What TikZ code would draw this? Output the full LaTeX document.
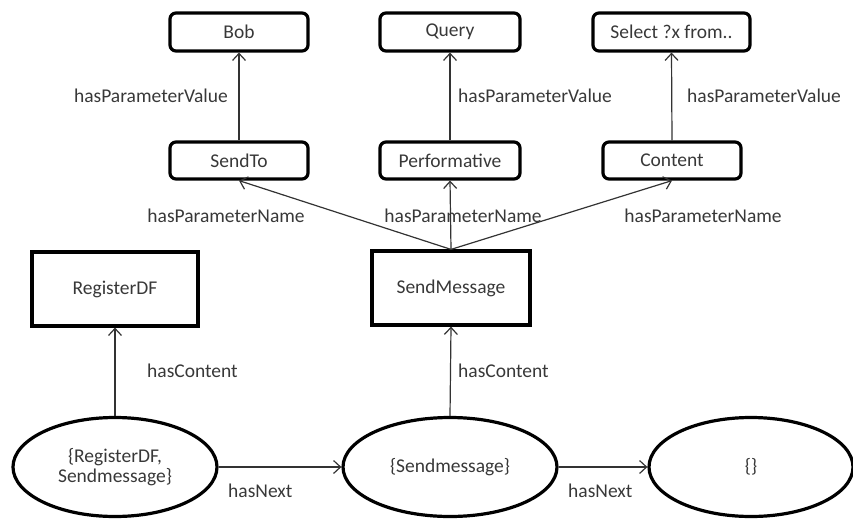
\documentclass[tikz,border=0pt]{standalone}
\usepackage{fontspec}
\setmainfont{Carlito}
\usetikzlibrary{shapes.geometric,arrows.meta}
\definecolor{txt}{HTML}{383838}
\begin{document}
\begin{tikzpicture}[x=1pt,y=-1pt,
  every node/.style={font=\fontsize{19.5}{22}\selectfont, text=txt},
  rbox/.style={draw=black, line width=3.2pt, rounded corners=6pt, inner sep=0pt, minimum height=38pt},
  sbox/.style={draw=black, line width=3.2pt, inner sep=0pt, minimum height=74pt},
  ell/.style={draw=black, line width=3.2pt, ellipse, inner sep=0pt, minimum height=99pt, align=center},
  lab/.style={inner sep=0pt},
  conn/.style={draw=black!80, line width=1.2pt, -{Straight Barb[length=7pt,width=13pt,line width=1.2pt]}}
]
\useasboundingbox (0,0) rectangle (853,519);
% top row
\node[rbox, minimum width=138pt] (bob) at (239,32) {Bob};
\node[rbox, minimum width=140pt] (query) at (450,32) {Query};
\node[rbox, minimum width=157pt] (select) at (671.5,32) {Select ?x from..};
% second row
\node[rbox, minimum width=138pt, minimum height=37pt] (sendto) at (239,160.5) {SendTo};
\node[rbox, minimum width=140pt, minimum height=37pt] (perf) at (450,160.5) {Performative};
\node[rbox, minimum width=138pt, minimum height=37pt] (content) at (672,160.5) {Content};
% third row
\node[sbox, minimum width=166pt] (reg) at (115,289) {RegisterDF};
\node[sbox, minimum width=158pt] (sendmsg) at (451,288) {SendMessage};
% ellipses
\node[ell, minimum width=204pt] (e1) at (115,467) {\{RegisterDF,\\[-2pt]Sendmessage\}};
\node[ell, minimum width=214pt] (e2) at (450,467) {\{Sendmessage\}};
\node[ell, minimum width=204pt] (e3) at (751,467) {\{\}};
% connectors
\draw[conn] (sendto.north) -- (bob.south);
\draw[conn] (perf.north) -- (query.south);
\draw[conn] (content.north) -- (select.south);
\draw[conn] (sendmsg.north) -- (sendto.south);
\draw[conn] (sendmsg.north) -- (perf.south);
\draw[conn] (sendmsg.north) -- (content.south);
\draw[conn] (e1.north) -- (reg.south);
\draw[conn] (e2.north) -- (sendmsg.south);
\draw[conn] (e1.east) -- (e2.west);
\draw[conn] (e2.east) -- (e3.west);
% labels
\node[lab, anchor=east] (l1) at (228,96) {hasParameterValue};
\node[lab, anchor=west] (l2) at (458,96) {hasParameterValue};
\node[lab, anchor=west] (l3) at (687,96) {hasParameterValue};
\node[lab] (l4) at (226,216) {hasParameterName};
\node[lab] (l5) at (463,216) {hasParameterName};
\node[lab] (l6) at (703,216) {hasParameterName};
\node[lab, anchor=west] (l7) at (147,371) {hasContent};
\node[lab, anchor=west] (l8) at (458,371) {hasContent};
\node[lab, anchor=west] (l9) at (228,491) {hasNext};
\node[lab, anchor=west] (l10) at (568,491) {hasNext};
\end{tikzpicture}
\end{document}
